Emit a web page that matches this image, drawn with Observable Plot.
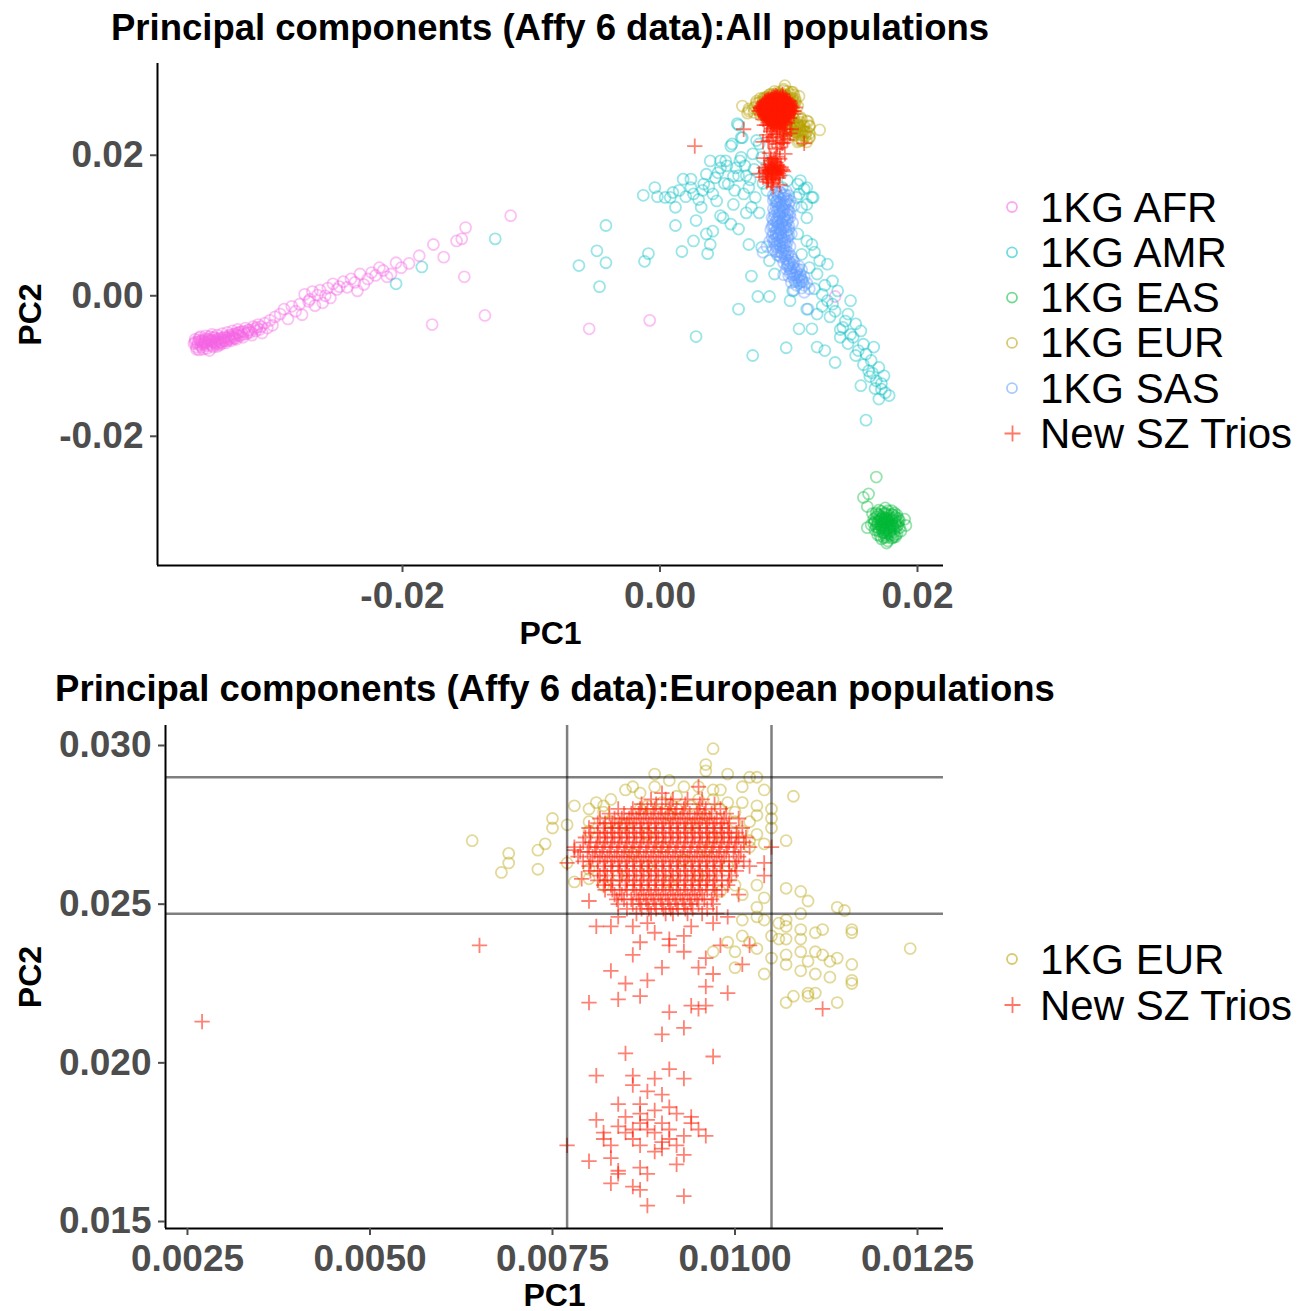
<!DOCTYPE html>
<html><head><meta charset="utf-8">
<script src="https://cdn.jsdelivr.net/npm/d3@7"></script>
<script src="https://cdn.jsdelivr.net/npm/@observablehq/plot@0.6"></script>
<style>
body{margin:0;background:#fff;}
#root{position:relative;width:1312px;height:1311px;background:#fff;font-family:"Liberation Sans",Arial,Helvetica,sans-serif;}
</style></head><body><div id="root"></div>
<script>
// ---------- categories & colours ----------
const popOrder = ["1KG AFR","1KG AMR","1KG EAS","1KG EUR","1KG SAS","New SZ Trios"];
const popColors = ["#F564E3","#00BFC4","#00BA38","#B79F00","#619CFF","#FF1A00"];

// ---------- tick labels ----------
const xTicksAll = [-0.02, 0, 0.02];
const yTicksAll = [-0.02, 0, 0.02];
const xTicksEur = [0.0025, 0.0050, 0.0075, 0.0100, 0.0125];
const yTicksEur = [0.015, 0.020, 0.025, 0.030];
const eurRefX = [0.0077, 0.0105];
const eurRefY = [0.0290, 0.0247];

// ---------- values (PC1, PC2) ----------
const afr = [[-.0362,-.0068],[-.0361,-.0062],[-.0360,-.0073],[-.0359,-.0066],[-.0358,-.0060],[-.0357,-.0070],[-.0356,-.0064],[-.0355,-.0076],[-.0354,-.0067],[-.0353,-.0061],[-.0352,-.0071],[-.0351,-.0065],[-.0350,-.0058],[-.0349,-.0069],[-.0348,-.0063],[-.0347,-.0073],[-.0346,-.0060],[-.0345,-.0066],[-.0344,-.0056],[-.0343,-.0064],[-.0342,-.0070],[-.0341,-.0060],[-.0340,-.0054],[-.0339,-.0064],[-.0338,-.0058],[-.0337,-.0067],[-.0336,-.0052],[-.0335,-.0061],[-.0334,-.0056],[-.0333,-.0064],[-.0332,-.0050],[-.0331,-.0058],[-.0330,-.0054],[-.0329,-.0062],[-.0328,-.0048],[-.0327,-.0056],[-.0325,-.0051],[-.0324,-.0059],[-.0322,-.0046],[-.0321,-.0054],[-.0319,-.0049],[-.0317,-.0056],[-.0316,-.0044],[-.0314,-.0050],[-.0312,-.0041],[-.0311,-.0048],[-.0309,-.0053],[-.0307,-.0039],[-.0305,-.0046],[-.0303,-.0035],[-.0301,-.0042],[-.0299,-.0030],
[-.0357,-.0065],[-.0353,-.0066],[-.0349,-.0064],[-.0346,-.0067],[-.0344,-.0062],[-.0341,-.0066],[-.0339,-.0060],[-.0355,-.0069],[-.0351,-.0062],[-.0347,-.0059],[-.0343,-.0068],[-.0336,-.0064],[-.0333,-.0059],[-.0330,-.0060],[-.0327,-.0052],[-.0324,-.0055],[-.0320,-.0052],[-.0358,-.0077],[-.0350,-.0078],
[-.0361,-.0066],[-.0359,-.0069],[-.0358,-.0063],[-.0356,-.0067],[-.0354,-.0064],[-.0352,-.0068],[-.0350,-.0062],[-.0348,-.0066],[-.0346,-.0064],[-.0345,-.0069],[-.0343,-.0061],[-.0342,-.0066],[-.0340,-.0062],[-.0338,-.0064],[-.0337,-.0060],[-.0335,-.0058],[-.0334,-.0062],[-.0332,-.0055],[-.0331,-.0061],[-.0329,-.0056],[-.0328,-.0053],[-.0326,-.0057],[-.0323,-.0051],[-.0320,-.0049],[-.0318,-.0052],[-.0315,-.0047],[-.0313,-.0045],[-.0310,-.0044],[-.0360,-.0076],[-.0356,-.0073],[-.0352,-.0075],[-.0348,-.0071],[-.0344,-.0072],[-.0340,-.0068],[-.0357,-.0058],[-.0353,-.0057],[-.0348,-.0055],
[-.0295,-.0026],[-.0292,-.0019],[-.0289,-.0033],[-.0286,-.0015],[-.0283,-.0022],[-.0280,-.0012],[-.0278,-.0027],[-.0276,.0002],[-.0273,-.0008],[-.0272,-.0005],[-.0270,.0006],[-.0268,-.0014],[-.0266,.0001],[-.0264,.0008],[-.0262,-.0010],[-.0260,.0000],[-.0258,.0011],[-.0256,-.0003],[-.0254,.0017],[-.0251,.0009],[-.0249,.0013],[-.0246,.0020],[-.0243,.0012],[-.0240,.0024],[-.0237,.0019],[-.0235,.0007],[-.0233,.0031],[-.0230,.0016],[-.0227,.0024],[-.0224,.0033],[-.0221,.0029],[-.0218,.0040],[-.0215,.0036],[-.0212,.0027],[-.0209,.0031],[-.0205,.0047],[-.0201,.0040],[-.0195,.0046],[-.0187,.0057],[-.0176,.0073],[-.0168,.0055],[-.0158,.0078],[-.0151,.0097],[-.0154,.0081],[-.0116,.0114],
[-.0152,.0027],[-.0177,-.0041],[-.0136,-.0028],[-.0055,-.0047],[-.0008,-.0035],[.0136,-.0001]];

const amr = [[-.0205,.0017],[-.0185,.0041],[-.0128,.0081],[-.0063,.0043],[-.0049,.0064],[-.0042,.0047],[-.0042,.0100],[-.0047,.0013],[-.0012,.0049],[-.0009,.0060],[.0028,-.0058],[.0012,.0100],[.0017,.0063],[.0026,.0078],[.0037,.0060],[.0039,.0073],[.0036,.0088],[.0041,.0092],[.0028,.0107],[-.0013,.0143],[-.0004,.0154],[-.0002,.0141],[.0008,.0140],[.0012,.0126],[.0020,.0141],[.0018,.0166],[.0024,.0154],[.0030,.0137],[.0032,.0126],[.0034,.0159],[.0039,.0192],[.0041,.0145],[.0043,.0168],[.0047,.0182],[.0051,.0192],[.0053,.0159],[.0055,.0213],[.0057,.0130],[.0059,.0182],[.0061,.0171],[.0063,.0197],[.0065,.0145],[.0067,.0118],[.0063,.0225],[.0061,.0243],[.0069,.0073],[.0071,.0028],[.0061,-.0019],[.0072,-.0085],[.0076,-.0001],[.0085,-.0001],[.0098,-.0074],[.0049,.0111],[.0055,.0102],[.0061,.0095],[.0071,.0126],[.0077,.0118],[.0047,.0114],[.0004,.0140],[.0010,.0147],[.0024,.0166],[.0036,.0173],[.0047,.0192],[.0077,.0216],[.0079,.0197],[.0081,.0178],[.0069,.0154],
[.0060,.0245],[.0064,.0225],[.0056,.0216],[.0062,.0192],[.0075,.0221],[.0072,.0202],[.0067,.0171],[.0109,.0164],[.0114,.0154],[.0119,.0140],[.0106,.0140],
[.0045,.0175],[.0050,.0160],[.0052,.0185],[.0057,.0170],[.0058,.0150],[.0066,.0185],[.0070,.0165],[.0073,.0180],[.0074,.0140],[.0080,.0160],[.0083,.0150],[.0015,.0150],[.0026,.0145],[.0033,.0150],[.0038,.0155],[.0044,.0135],
[.0107,.0159],[.0112,.0152],[.0118,.0140],[.0110,.0126],[.0114,.0111],[.0118,.0073],[.0120,.0062],[.0110,.0059],[.0130,.0045],[.0122,.0031],[.0134,.0021],[.0138,.0007],[.0126,.0002],[.0148,-.0007],[.0134,-.0012],[.0146,-.0026],[.0152,-.0040],[.0142,-.0045],[.0156,-.0050],[.0150,-.0059],[.0158,-.0069],[.0166,-.0073],[.0160,-.0083],[.0170,-.0102],[.0162,-.0107],[.0174,-.0114],[.0168,-.0121],[.0172,-.0133],[.0178,-.0142],[.0170,-.0147],[.0156,-.0128],[.0160,-.0177],[.0122,-.0073],[.0128,-.0078],[.0136,-.0095],[.0108,-.0047],[.0118,-.0047],[.0122,-.0026],[.0114,-.0019],[.0140,-.0059],[.0154,-.0078],[.0164,-.0092],[.0144,-.0036],[.0130,-.0007],[.0079,.0069],[.0085,.0050],[.0089,.0031],[.0101,-.0007],[.0103,.0007],[.0110,.0021],[.0107,.0088],[.0114,.0078],[.0095,.0154],[.0099,.0164],[.0108,.0145],[.0091,.0135],[.0114,.0130],
[.0165,-.0110],[.0172,-.0125],[.0175,-.0138],[.0167,-.0132],[.0163,-.0115],[.0158,-.0098],[.0152,-.0085],[.0146,-.0068],[.0140,-.0048],[.0132,-.0030],[.0126,-.0015],[.0120,.0010],[.0116,.0040],[.0124,.0050],[.0128,.0015],[.0136,-.0022],[.0148,-.0055]];

const eas = [[.0165,-.0310],[.0170,-.0305],[.0175,-.0302],[.0180,-.0306],[.0184,-.0312],[.0166,-.0318],[.0171,-.0314],[.0176,-.0311],[.0181,-.0316],[.0186,-.0320],[.0164,-.0326],[.0169,-.0322],[.0174,-.0319],[.0179,-.0324],[.0184,-.0328],[.0167,-.0333],[.0172,-.0330],[.0177,-.0327],[.0182,-.0332],[.0187,-.0335],[.0169,-.0340],[.0174,-.0337],[.0179,-.0341],[.0184,-.0339],[.0172,-.0346],[.0177,-.0349],[.0181,-.0344],[.0173,-.0323],[.0176,-.0318],[.0178,-.0330],[.0171,-.0327],[.0175,-.0334],[.0180,-.0320],[.0168,-.0315],[.0183,-.0324],[.0174,-.0326],[.0177,-.0322],[.0172,-.0319],[.0179,-.0335],[.0176,-.0338],
[.0168,-.0309],[.0172,-.0307],[.0177,-.0306],[.0182,-.0309],[.0170,-.0312],[.0174,-.0310],[.0178,-.0313],[.0183,-.0315],[.0167,-.0321],[.0171,-.0318],[.0175,-.0316],[.0180,-.0318],[.0185,-.0322],[.0168,-.0329],[.0172,-.0325],[.0176,-.0324],[.0181,-.0327],[.0186,-.0330],[.0170,-.0335],[.0174,-.0332],[.0178,-.0336],[.0182,-.0336],[.0171,-.0342],[.0175,-.0341],[.0180,-.0345],[.0183,-.0343],[.0173,-.0315],[.0177,-.0320],[.0179,-.0328],[.0173,-.0328],[.0176,-.0331],[.0170,-.0321],[.0181,-.0312],[.0166,-.0324],[.0174,-.0344],[.0185,-.0317],
[.0169,-.0311],[.0175,-.0309],[.0180,-.0311],[.0172,-.0317],[.0178,-.0317],[.0183,-.0320],[.0169,-.0325],[.0175,-.0323],[.0180,-.0325],[.0185,-.0326],[.0170,-.0331],[.0176,-.0328],[.0181,-.0330],[.0173,-.0337],[.0178,-.0339],[.0182,-.0341],[.0176,-.0344],[.0173,-.0334],[.0179,-.0333],[.0174,-.0321],
[.0168,-.0258],[.0162,-.0282],[.0158,-.0287],[.0191,-.0327],[.0176,-.0352],[.0161,-.0300],[.0161,-.0330],[.0190,-.0318]];

const eur = [[.0064,.0270],[.0069,.0266],[.0069,.0263],[.0068,.0260],[.0073,.0267],[.0073,.0261],[.0074,.0269],[.0075,.0277],[.0075,.0274],[.0077,.0275],[.0078,.0281],[.0078,.0257],[.0077,.0263],
[.0097,.0299],[.0096,.0294],[.0096,.0292],[.0089,.0291],[.0091,.0289],[.0099,.0291],[.0102,.0290],[.0103,.0290],[.0089,.0287],[.0086,.0287],[.0085,.0286],[.0087,.0285],[.0093,.0287],[.0095,.0287],[.0097,.0286],[.0098,.0286],[.0101,.0287],[.0104,.0286],[.0108,.0284],[.0081,.0282],[.0083,.0283],[.0092,.0284],[.0095,.0283],[.0097,.0283],[.0099,.0282],[.0101,.0282],[.0103,.0281],[.0105,.0280],[.0105,.0277],[.0105,.0274],[.0107,.0270],[.0103,.0278],[.0102,.0276],[.0080,.0280],[.0082,.0279],[.0083,.0276],[.0080,.0276],[.0080,.0273],[.0082,.0281],[.0087,.0280],[.0088,.0281],[.0090,.0282],[.0100,.0279],[.0101,.0273],[.0103,.0272],[.0104,.0269],[.0102,.0268],[.0102,.0270],[.0080,.0261],[.0080,.0258],[.0082,.0256],[.0103,.0256],[.0104,.0252],[.0103,.0249],[.0100,.0256],[.0101,.0253],
[.0107,.0255],[.0109,.0254],[.0110,.0251],[.0114,.0249],[.0115,.0248],[.0109,.0247],[.0107,.0245],[.0106,.0244],[.0107,.0243],[.0109,.0242],[.0111,.0241],[.0112,.0242],[.0116,.0242],[.0116,.0241],[.0101,.0245],[.0103,.0246],[.0104,.0245],[.0105,.0240],[.0106,.0239],[.0107,.0239],[.0109,.0239],[.0099,.0238],[.0101,.0240],[.0102,.0238],[.0097,.0235],[.0100,.0235],[.0103,.0236],[.0105,.0233],[.0107,.0234],[.0109,.0235],[.0111,.0235],[.0112,.0234],[.0114,.0233],[.0110,.0232],[.0109,.0229],[.0107,.0231],[.0104,.0228],[.0100,.0230],[.0113,.0232],[.0116,.0231],[.0111,.0228],[.0113,.0227],[.0116,.0226],[.0116,.0225],[.0110,.0222],[.0111,.0222],[.0110,.0221],[.0108,.0221],[.0107,.0219],[.0114,.0219],[.0124,.0236],
[.0085,.0275],[.0088,.0272],[.0091,.0278],[.0094,.0275],[.0097,.0271],[.0086,.0266],[.0090,.0268],[.0093,.0264],[.0096,.0267],[.0099,.0262],[.0084,.0259],[.0088,.0262],[.0091,.0257],[.0095,.0259],[.0098,.0254],[.0092,.0280],[.0094,.0281],[.0096,.0278],[.0098,.0280],[.0100,.0276]];

const sas = [[.0090,.0148],[.0094,.0146],[.0098,.0149],[.0092,.0141],[.0096,.0139],[.0100,.0143],[.0088,.0136],[.0093,.0133],[.0097,.0131],[.0101,.0135],[.0090,.0127],[.0095,.0125],[.0099,.0122],[.0104,.0128],
[.0089,.0119],[.0093,.0117],[.0097,.0114],[.0101,.0118],[.0087,.0111],[.0091,.0109],[.0095,.0106],[.0099,.0110],[.0103,.0104],[.0088,.0101],[.0092,.0099],[.0096,.0097],[.0100,.0100],[.0086,.0094],[.0090,.0091],[.0094,.0089],[.0098,.0092],[.0102,.0088],[.0087,.0084],[.0091,.0082],[.0095,.0080],[.0099,.0083],[.0085,.0077],[.0089,.0074],[.0093,.0072],[.0097,.0075],[.0101,.0070],[.0088,.0066],[.0092,.0063],[.0096,.0065],[.0100,.0061],[.0083,.0070],[.0080,.0062],[.0093,.0122],[.0091,.0104],[.0094,.0094],[.0092,.0086],[.0096,.0069],
[.0091,.0145],[.0096,.0143],[.0089,.0139],[.0094,.0137],[.0099,.0137],[.0091,.0131],[.0095,.0129],[.0100,.0130],[.0092,.0125],[.0097,.0127],[.0091,.0120],[.0095,.0119],[.0099,.0116],[.0089,.0114],[.0093,.0112],[.0097,.0109],[.0101,.0112],[.0090,.0106],[.0094,.0103],[.0098,.0104],[.0089,.0097],[.0093,.0095],[.0097,.0100],[.0100,.0094],[.0088,.0089],[.0092,.0088],[.0096,.0085],[.0100,.0086],[.0089,.0080],[.0093,.0078],[.0097,.0079],[.0090,.0070],[.0094,.0068],[.0098,.0071],[.0091,.0058],[.0095,.0060],[.0099,.0058],[.0097,.0056],[.0100,.0050],[.0103,.0052],[.0099,.0042],[.0104,.0040],[.0107,.0038],[.0101,.0032],[.0105,.0030],[.0109,.0030],[.0106,.0026],[.0110,.0024],[.0108,.0018],[.0112,.0015],
[.0088,.0143],[.0093,.0148],[.0097,.0144],[.0090,.0134],[.0098,.0134],[.0094,.0128],[.0088,.0124],[.0096,.0121],[.0092,.0115],[.0100,.0121],[.0088,.0108],[.0096,.0111],[.0092,.0106],[.0099,.0107],[.0087,.0099],[.0095,.0101],[.0091,.0096],[.0098,.0097],[.0090,.0086],[.0094,.0083],[.0098,.0088],[.0088,.0078],[.0095,.0076],[.0091,.0075],[.0099,.0077],[.0090,.0063],[.0094,.0062],[.0098,.0064],[.0093,.0057],[.0097,.0060],[.0101,.0047],[.0099,.0046],[.0103,.0044],[.0101,.0039],[.0106,.0036],[.0103,.0030],[.0107,.0028],[.0105,.0020],[.0109,.0027],[.0111,.0020],
[.0094,.0055],[.0098,.0052],[.0102,.0056],[.0096,.0047],[.0100,.0044],[.0104,.0048],[.0108,.0042],[.0098,.0038],[.0102,.0035],[.0106,.0033],[.0110,.0037],[.0100,.0028],[.0104,.0025],[.0108,.0022],[.0112,.0027],[.0114,.0018],[.0106,.0015],[.0110,.0011],[.0116,.0010],[.0102,.0019],[.0096,.0030],[.0112,.0005],[.0104,.0008],[.0115,-.0019]];

// New SZ Trios: dense core read as rows (PC2 of each row, PC1 values along the row)
const trioCoreY = [.0283,.02815,.0280,.02785,.0277,.02755,.0274,.02725,.0271,.02695,.0268,.02665,.0265,.02635,.0262,.02605,.0259,.02575,.0256,.02545,.0253,.02515,.0250,.02485,.0247];
const trioCoreX = [
 [.00885,.00905,.00915,.00935,.00955],
 [.00872,.00892,.00912,.00932,.00952,.00972],
 [.0084,.0086,.0087,.0088,.0089,.0090,.0091,.0092,.0093,.0095,.0096,.0098],
 [.00828,.00848,.00858,.00868,.00878,.00888,.00898,.00908,.00918,.00928,.00938,.00948,.00958,.00968,.00988],
 [.00815,.00835,.00845,.00855,.00865,.00875,.00885,.00895,.00905,.00915,.00925,.00935,.00945,.00955,.00965,.00975,.00985,.01005],
 [.00812,.00822,.00832,.00842,.00852,.00862,.00872,.00882,.00892,.00902,.00912,.00922,.00932,.00942,.00952,.00962,.00972,.00982,.00992],
 [.0080,.0082,.0083,.0084,.0085,.0086,.0087,.0088,.0089,.0090,.0091,.0092,.0093,.0094,.0095,.0096,.0097,.0098,.0099,.0101],
 [.00802,.00812,.00822,.00832,.00842,.00852,.00862,.00872,.00882,.00892,.00902,.00912,.00922,.00932,.00942,.00952,.00962,.00972,.00982,.00992,.01002],
 [.00795,.00815,.00825,.00835,.00845,.00855,.00865,.00875,.00885,.00895,.00905,.00915,.00925,.00935,.00945,.00955,.00965,.00975,.00985,.00995,.01005,.01015],
 [.00792,.00802,.00812,.00822,.00832,.00842,.00852,.00862,.00872,.00882,.00892,.00902,.00912,.00922,.00932,.00942,.00952,.00962,.00972,.00982,.00992,.01002,.01012],
 [.0078,.0080,.0081,.0082,.0083,.0084,.0085,.0086,.0087,.0088,.0089,.0090,.0091,.0092,.0093,.0094,.0095,.0096,.0097,.0098,.0099,.0100,.0102],
 [.00788,.00798,.00808,.00818,.00828,.00838,.00848,.00858,.00868,.00878,.00888,.00898,.00908,.00918,.00928,.00938,.00948,.00958,.00968,.00978,.00988,.00998,.01008],
 [.00785,.00805,.00815,.00825,.00835,.00845,.00855,.00865,.00875,.00885,.00895,.00905,.00915,.00925,.00935,.00945,.00955,.00965,.00975,.00985,.01005],
 [.00792,.00802,.00812,.00822,.00832,.00842,.00852,.00862,.00872,.00882,.00892,.00902,.00912,.00922,.00932,.00942,.00952,.00962,.00972,.00982,.00992,.01002,.01012],
 [.0080,.0082,.0083,.0084,.0085,.0086,.0087,.0088,.0089,.0090,.0091,.0092,.0093,.0094,.0095,.0096,.0097,.0098,.0100,.0102],
 [.00802,.00812,.00822,.00832,.00842,.00852,.00862,.00872,.00882,.00892,.00902,.00912,.00922,.00932,.00942,.00952,.00962,.00972,.00982,.00992,.01002],
 [.00815,.00825,.00845,.00855,.00865,.00875,.00885,.00895,.00905,.00915,.00925,.00935,.00945,.00955,.00965,.00975,.00995],
 [.00812,.00822,.00832,.00842,.00852,.00862,.00872,.00882,.00892,.00902,.00912,.00922,.00932,.00942,.00952,.00962,.00972,.00982,.00992],
 [.0082,.0083,.0085,.0086,.0087,.0088,.0089,.0090,.0091,.0092,.0093,.0094,.0095,.0096,.0097,.0099],
 [.00822,.00832,.00842,.00852,.00862,.00872,.00882,.00892,.00902,.00912,.00922,.00932,.00942,.00952,.00962,.00972,.00982],
 [.00835,.00845,.00865,.00875,.00885,.00895,.00905,.00915,.00925,.00935,.00945,.00955,.00975,.01005],
 [.00838,.00848,.00858,.00868,.00878,.00888,.00898,.00908,.00918,.00928,.00938,.00948,.00958,.00968],
 [.0084,.0086,.0087,.0088,.0089,.0090,.0091,.0092,.0093,.0094,.0095,.0097],
 [.00852,.00872,.00882,.00892,.00902,.00912,.00922,.00932,.00942,.00962],
 [.00865,.00885,.00905,.00915,.00935,.00955,.00975]];
const trioScatter = [[.0077,.0263],[.0078,.0267],[.0079,.0258],[.0080,.0251],[.0081,.0243],[.0083,.0243],[.0084,.0246],[.0086,.0243],[.0087,.0238],[.0091,.0239],[.0093,.0240],[.0091,.0237],[.0093,.0235],[.0086,.0234],[.0090,.0230],[.0083,.0229],[.0088,.0226],[.0085,.0225],[.0087,.0221],[.0084,.0220],[.0080,.0219],[.0095,.0230],[.0096,.0233],[.0097,.0228],[.0096,.0224],[.0099,.0222],[.0098,.0237],[.0101,.0231],[.0102,.0237],[.0104,.0259],[.0105,.0268],[.0104,.0263],[.0112,.0217],[.0091,.0216],[.0094,.0218],[.0095,.0217],[.0096,.0218],[.0093,.0211],[.0090,.0209],[.0065,.0237],[.0027,.0213],[.0095,.0287],[.0090,.0285],[.0088,.0244],[.0094,.0243],[.0097,.0244],[.0099,.0246],[.0089,.0241]];
const trioLower = [[.0085,.0203],[.0097,.0202],[.0081,.0196],[.0086,.0196],[.0086,.0193],[.0091,.0198],[.0093,.0195],[.0089,.0195],[.0088,.0191],[.0090,.0190],[.0084,.0187],[.0087,.0184],[.0085,.0183],[.0091,.0186],[.0092,.0184],[.0094,.0183],[.0081,.0182],[.0082,.0178],[.0084,.0180],[.0087,.0181],[.0088,.0182],[.0089,.0178],[.0091,.0179],[.0095,.0179],[.0096,.0177],[.0093,.0177],[.0082,.0176],[.0083,.0174],[.0086,.0176],[.0087,.0174],[.0090,.0175],[.0090,.0173],[.0092,.0174],[.0077,.0174],[.0080,.0169],[.0083,.0170],[.0084,.0166],[.0087,.0167],[.0093,.0171],[.0092,.0168],[.0084,.0165],[.0088,.0165],[.0083,.0162],[.0086,.0161],[.0087,.0160],[.0093,.0158],[.0088,.0155],[.0087,.0187],[.0089,.0185],[.0094,.0181],[.0086,.0179],[.0088,.0179],[.0090,.0181],[.0089,.0172],[.0085,.0178],[.0091,.0176]];

// ---------- build tables ----------
const rows = (pop, pairs) => pairs.map(([x, y]) => ({pop, x, y}));
const trioCore = trioCoreY.flatMap((y, i) => trioCoreX[i].map(x => [x, y]));
const trios = rows("New SZ Trios", [...trioCore, ...trioScatter, ...trioLower]);
const circlesAll = [...rows("1KG AFR", afr), ...rows("1KG AMR", amr), ...rows("1KG EAS", eas), ...rows("1KG EUR", eur), ...rows("1KG SAS", sas)];
const circlesEur = rows("1KG EUR", eur);

const FONT = '"Liberation Sans", Arial, Helvetica, sans-serif';
const root = document.getElementById("root");

function panel({circles, xDomain, yDomain, xTicks, yTicks, xFmt, yFmt, top, height, mt, mb, ml, extra = [], pc1dy, pc2dx}) {
  const svg = Plot.plot({
    width: 960, height,
    marginTop: mt, marginBottom: mb, marginLeft: ml, marginRight: 17,
    style: {fontFamily: FONT, fontSize: "37px", fontWeight: "bold", background: "white", overflow: "visible"},
    x: {domain: xDomain}, y: {domain: yDomain},
    color: {domain: popOrder, range: popColors},
    marks: [
      Plot.dot(circles, {x: "x", y: "y", stroke: "pop", r: 5.5, strokeWidth: 1.8, strokeOpacity: 0.4, fill: "none"}),
      Plot.dot(trios, {x: "x", y: "y", stroke: "pop", symbol: "plus", r: 5, strokeWidth: 1.8, strokeOpacity: 0.55}),
      ...extra,
      Plot.ruleX([xDomain[0]], {stroke: "#000", strokeWidth: 2}),
      Plot.ruleY([yDomain[0]], {stroke: "#000", strokeWidth: 2}),
      Plot.axisX({ticks: xTicks, tickFormat: xFmt, tickSize: 7, tickPadding: 9, strokeWidth: 2, color: "#4d4d4d", label: null, fontSize: 37, fontWeight: "bold"}),
      Plot.axisY({ticks: yTicks, tickFormat: yFmt, tickSize: 7, tickPadding: 7, strokeWidth: 2, color: "#4d4d4d", label: null, fontSize: 37, fontWeight: "bold"}),
      Plot.text(["PC1"], {frameAnchor: "bottom", dy: pc1dy, lineAnchor: "middle", textAnchor: "middle", fontSize: 32, fontWeight: "bold", fill: "#000"}),
      Plot.text(["PC2"], {frameAnchor: "left", dx: pc2dx, rotate: -90, textAnchor: "middle", lineAnchor: "middle", fontSize: 32, fontWeight: "bold", fill: "#000"})
    ]
  });
  svg.style.position = "absolute";
  svg.style.left = "0px";
  svg.style.top = top + "px";
  root.appendChild(svg);
}

panel({circles: circlesAll, xDomain: [-0.03903, 0.02202], yDomain: [-0.03839, 0.03306],
  xTicks: xTicksAll, yTicks: yTicksAll, xFmt: d => d.toFixed(2), yFmt: d => d.toFixed(2),
  top: 40, height: 620, mt: 23, mb: 95, ml: 157, pc1dy: 68, pc2dx: -127});

panel({circles: circlesEur, xDomain: [0.002199, 0.012856], yDomain: [0.01478, 0.03063],
  xTicks: xTicksEur, yTicks: yTicksEur, xFmt: d => d.toFixed(4), yFmt: d => d.toFixed(3),
  top: 700, height: 611, mt: 25, mb: 83, ml: 165, pc1dy: 67, pc2dx: -135,
  extra: [
    Plot.ruleX(eurRefX, {stroke: "#000", strokeOpacity: 0.5, strokeWidth: 2.5}),
    Plot.ruleY(eurRefY, {stroke: "#000", strokeOpacity: 0.5, strokeWidth: 2.5})
  ]});

// ---------- titles and legends ----------
const ov = d3.select(root).append("svg")
  .attr("width", 1312).attr("height", 1311)
  .style("position", "absolute").style("left", "0px").style("top", "0px")
  .style("pointer-events", "none").style("font-family", FONT);

ov.append("text").attr("x", 550).attr("y", 40).attr("text-anchor", "middle")
  .attr("font-size", 36.5).attr("font-weight", "bold").attr("fill", "#000")
  .text("Principal components (Affy 6 data):All populations");
ov.append("text").attr("x", 555).attr("y", 701).attr("text-anchor", "middle")
  .attr("font-size", 36.5).attr("font-weight", "bold").attr("fill", "#000")
  .text("Principal components (Affy 6 data):European populations");

const color = d3.scaleOrdinal(popOrder, popColors);
function legend(items, y0, step) {
  items.forEach((pop, i) => {
    const cy = y0 + i * step;
    if (pop === "New SZ Trios") {
      ov.append("path").attr("d", `M1004.5,${cy}h16M1012.5,${cy - 8}v16`)
        .attr("stroke", color(pop)).attr("stroke-width", 1.8).attr("stroke-opacity", 0.6).attr("fill", "none");
    } else {
      ov.append("circle").attr("cx", 1012).attr("cy", cy).attr("r", 5)
        .attr("stroke", color(pop)).attr("stroke-width", 1.8).attr("stroke-opacity", 0.55).attr("fill", "none");
    }
    ov.append("text").attr("x", 1040).attr("y", cy + 14.5).attr("font-size", 42).attr("fill", "#000").text(pop);
  });
}
legend(popOrder, 207, 45.3);
legend(["1KG EUR", "New SZ Trios"], 959, 46);
</script></body></html>
